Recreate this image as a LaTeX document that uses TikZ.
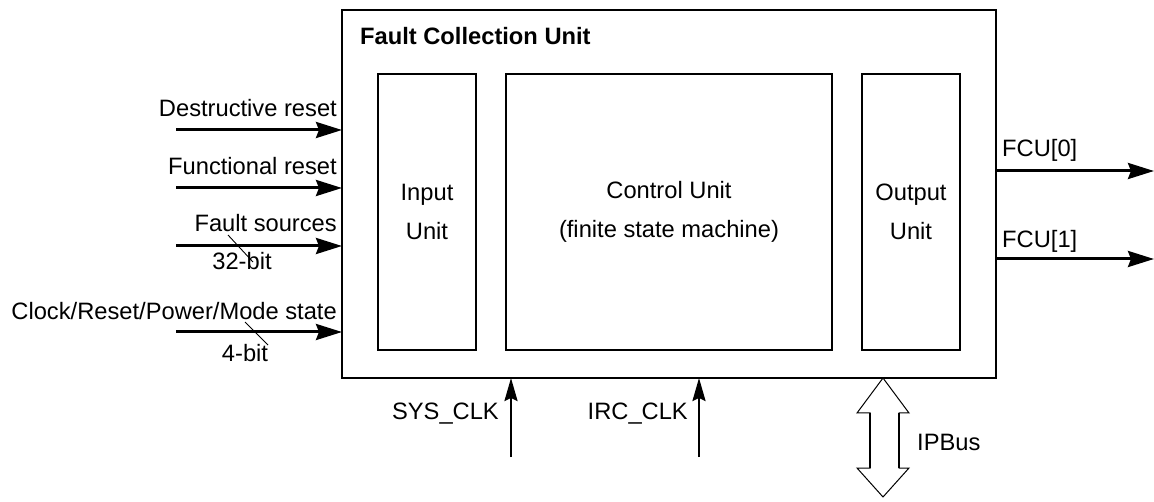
\documentclass[tikz,border=0pt]{standalone}
\usepackage{fontspec}
\setmainfont{Liberation Sans}
\usetikzlibrary{arrows.meta}
\begin{document}
\begin{tikzpicture}[x=1pt,y=-1pt,
  every node/.style={inner sep=0pt,font=\fontsize{23.7}{27}\selectfont},
  box/.style={draw,line width=2pt},
  sig/.style={line width=3pt,-{Stealth[length=26pt,width=16pt,inset=3pt]}},
  vsig/.style={line width=2.4pt,-{Stealth[length=23pt,width=13pt,inset=3pt]}},
  slash/.style={line width=0.9pt},
  lbl/.style={anchor=base east},
  inlbl/.style={align=center}]
\useasboundingbox (0,0) rectangle (1154,502);
% main block
\draw[box] (342,10) rectangle (996,378);
\node (main) at (669,194) [minimum width=654pt,minimum height=368pt] {};
\node[anchor=base west,font=\fontsize{23.7}{27}\selectfont\bfseries] (title) at (360,45) {Fault Collection Unit};
% inner units
\node[box,minimum width=98pt,minimum height=276pt] (inp) at (427,212) {};
\node[box,minimum width=326pt,minimum height=276pt] (ctl) at (669,212) {};
\node[box,minimum width=98pt,minimum height=276pt] (outu) at (911,212) {};
\node[inlbl] at (inp) {Input\\[12pt]Unit};
\node[inlbl] at (ctl) {Control Unit\\[12pt](finite state machine)};
\node[inlbl] at (outu) {Output\\[12pt]Unit};
% inputs
\coordinate (d0) at (176,130); \coordinate (d1) at (342,130);
\coordinate (f0) at (176,188); \coordinate (f1) at (342,188);
\coordinate (s0) at (176,246); \coordinate (s1) at (342,246);
\coordinate (c0) at (176,332); \coordinate (c1) at (342,332);
\draw[sig] (d0) -- (d1);
\draw[sig] (f0) -- (f1);
\draw[sig] (s0) -- (s1);
\draw[sig] (c0) -- (c1);
\node[lbl] (ld) at (337,117) {Destructive reset};
\node[lbl] (lf) at (337,175) {Functional reset};
\node[lbl] (ls) at (337,232) {Fault sources};
\node[lbl] (lc) at (337,320) {Clock/Reset/Power/Mode state};
\coordinate (sa) at (228,235); \coordinate (sb) at (253,262);
\draw[slash] (sa) -- (sb);
\node[anchor=base] (b32) at (242,270) {32-bit};
\coordinate (ca) at (245,322); \coordinate (cb) at (268,345);
\draw[slash] (ca) -- (cb);
\node[anchor=base] (b4) at (245,362) {4-bit};
% outputs
\coordinate (o0a) at (996,171); \coordinate (o0b) at (1154,171);
\coordinate (o1a) at (996,259); \coordinate (o1b) at (1154,259);
\draw[sig] (o0a) -- (o0b);
\draw[sig] (o1a) -- (o1b);
\node[anchor=base west] (lo0) at (1002,157) {FCU[0]};
\node[anchor=base west] (lo1) at (1002,248) {FCU[1]};
% clocks
\coordinate (k0) at (511,457); \coordinate (k1) at (511,378);
\coordinate (i0) at (699,457); \coordinate (i1) at (699,378);
\draw[vsig] (k0) -- (k1);
\draw[vsig] (i0) -- (i1);
\node[lbl] (lk) at (499,420) {SYS\_CLK};
\node[lbl] (li) at (688,420) {IRC\_CLK};
% IPBus
\draw[line width=1pt,fill=white] (883,378) -- (909,413) -- (899,413) -- (899,468) -- (909,468) -- (883,497)
  -- (857,468) -- (870,468) -- (870,413) -- (857,413) -- cycle;
\draw[line width=2pt] (870,413) -- (870,468) (899,413) -- (899,468);
\node[anchor=base west] (lb) at (917,450) {IPBus};
\end{tikzpicture}
\end{document}
